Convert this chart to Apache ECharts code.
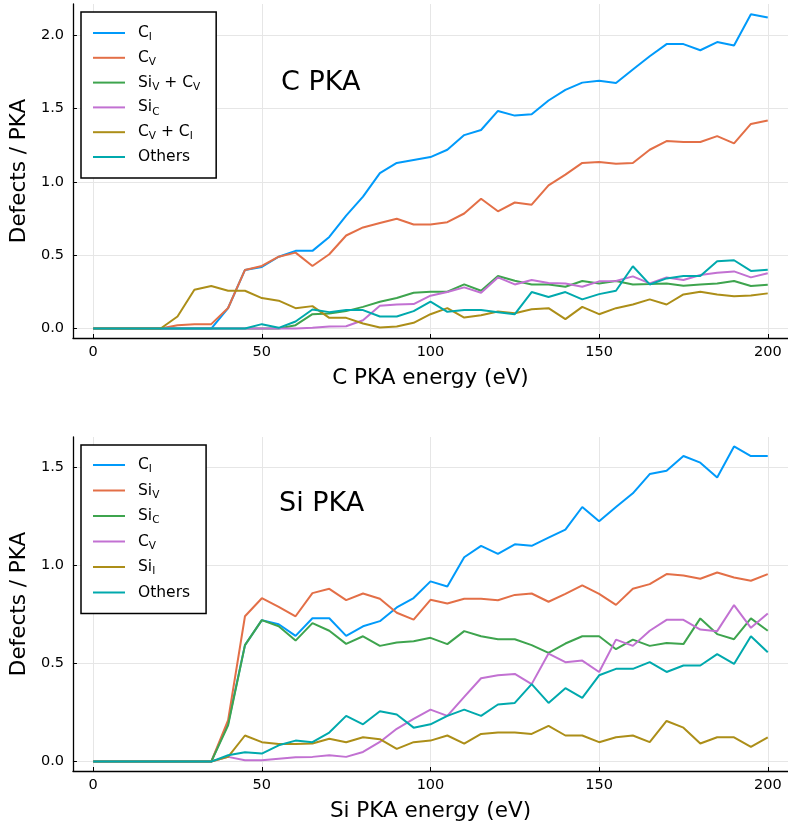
<!DOCTYPE html>
<html>
<head>
<meta charset="utf-8">
<script src="https://cdn.jsdelivr.net/npm/echarts@6/dist/echarts.min.js"></script>
<style>
  html, body { margin: 0; padding: 0; background: #fff; }
  #main { width: 788px; height: 829px; }
</style>
</head>
<body>
<div id="main"></div>
<script>
// energies (eV), one point every 5 eV
var energies = [0, 5, 10, 15, 20, 25, 30, 35, 40, 45, 50, 55, 60, 65, 70, 75, 80, 85, 90, 95, 100,
    105, 110, 115, 120, 125, 130, 135, 140, 145, 150, 155, 160, 165, 170, 175, 180, 185, 190, 195, 200];

// ---- C PKA ----
var cPka_CI = [0, 0, 0, 0, 0, 0, 0, 0, 0.14, 0.40, 0.42, 0.49, 0.53, 0.53, 0.625, 0.77, 0.9, 1.06, 1.13, 1.15, 1.17,
    1.22, 1.32, 1.355, 1.485, 1.453, 1.462, 1.556, 1.628, 1.678, 1.691, 1.676, 1.768, 1.858, 1.941, 1.941, 1.899, 1.955, 1.932, 2.144, 2.122];
var cPka_CV = [0, 0, 0, 0, 0, 0.023, 0.03, 0.03, 0.14, 0.40, 0.427, 0.49, 0.518, 0.427, 0.507, 0.635, 0.69, 0.72, 0.749, 0.71, 0.71,
    0.726, 0.785, 0.886, 0.80, 0.86, 0.845, 0.977, 1.05, 1.13, 1.137, 1.124, 1.13, 1.22, 1.279, 1.273, 1.273, 1.313, 1.264, 1.396, 1.419];
var cPka_SiVCV = [0, 0, 0, 0, 0, 0, 0, 0, 0, 0, 0, 0, 0.023, 0.098, 0.103, 0.119, 0.148, 0.183, 0.208, 0.244, 0.251,
    0.251, 0.301, 0.258, 0.358, 0.326, 0.301, 0.301, 0.285, 0.324, 0.308, 0.324, 0.301, 0.304, 0.308, 0.292, 0.301, 0.308, 0.324, 0.29, 0.299];
var cPka_SiC = [0, 0, 0, 0, 0, 0, 0, 0, 0, 0, 0, 0, 0, 0.005, 0.014, 0.016, 0.057, 0.155, 0.164, 0.167, 0.224,
    0.249, 0.281, 0.244, 0.349, 0.301, 0.331, 0.311, 0.308, 0.285, 0.322, 0.324, 0.356, 0.308, 0.349, 0.331, 0.365, 0.381, 0.39, 0.349, 0.377];
var cPka_CVCI = [0, 0, 0, 0, 0, 0.082, 0.265, 0.29, 0.258, 0.258, 0.208, 0.19, 0.139, 0.153, 0.073, 0.073, 0.034, 0.007, 0.014, 0.039, 0.098,
    0.139, 0.075, 0.091, 0.116, 0.105, 0.132, 0.139, 0.064, 0.148, 0.098, 0.139, 0.164, 0.199, 0.164, 0.233, 0.251, 0.233, 0.221, 0.226, 0.24];
var cPka_Others = [0, 0, 0, 0, 0, 0, 0, 0, 0, 0, 0.03, 0.005, 0.048, 0.13, 0.112, 0.126, 0.126, 0.082, 0.082, 0.119, 0.183,
    0.114, 0.126, 0.126, 0.112, 0.098, 0.249, 0.215, 0.249, 0.199, 0.235, 0.258, 0.425, 0.301, 0.342, 0.358, 0.358, 0.459, 0.466, 0.393, 0.402];

// ---- Si PKA ----
var siPka_CI = [0, 0, 0, 0, 0, 0, 0, 0, 0.194, 0.594, 0.721, 0.70, 0.641, 0.731, 0.731, 0.641, 0.69, 0.716, 0.786, 0.834, 0.919,
    0.893, 1.042, 1.10, 1.059, 1.108, 1.10, 1.142, 1.183, 1.298, 1.225, 1.298, 1.368, 1.466, 1.483, 1.558, 1.524, 1.449, 1.607, 1.558, 1.558];
var siPka_SiV = [0, 0, 0, 0, 0, 0, 0, 0, 0.211, 0.741, 0.833, 0.789, 0.741, 0.859, 0.881, 0.823, 0.857, 0.83, 0.759, 0.724, 0.825,
    0.806, 0.83, 0.83, 0.823, 0.85, 0.857, 0.815, 0.855, 0.898, 0.855, 0.799, 0.881, 0.905, 0.956, 0.949, 0.932, 0.964, 0.939, 0.922, 0.956];
var siPka_SiC = [0, 0, 0, 0, 0, 0, 0, 0, 0.185, 0.594, 0.721, 0.69, 0.617, 0.706, 0.667, 0.60, 0.639, 0.59, 0.607, 0.614, 0.631,
    0.599, 0.665, 0.639, 0.624, 0.624, 0.594, 0.554, 0.602, 0.639, 0.639, 0.573, 0.622, 0.59, 0.605, 0.599, 0.73, 0.65, 0.624, 0.73, 0.667];
var siPka_CV = [0, 0, 0, 0, 0, 0, 0, 0, 0.024, 0.007, 0.007, 0.015, 0.022, 0.024, 0.032, 0.024, 0.049, 0.10, 0.167, 0.218, 0.265,
    0.233, 0.33, 0.425, 0.44, 0.447, 0.395, 0.551, 0.507, 0.515, 0.457, 0.622, 0.59, 0.667, 0.723, 0.723, 0.673, 0.665, 0.798, 0.682, 0.755];
var siPka_SiI = [0, 0, 0, 0, 0, 0, 0, 0, 0.024, 0.133, 0.099, 0.09, 0.09, 0.092, 0.116, 0.099, 0.124, 0.114, 0.065, 0.099, 0.107,
    0.133, 0.092, 0.141, 0.148, 0.148, 0.141, 0.182, 0.133, 0.133, 0.099, 0.124, 0.133, 0.099, 0.207, 0.173, 0.092, 0.124, 0.124, 0.075, 0.124];
var siPka_Others = [0, 0, 0, 0, 0, 0, 0, 0, 0.032, 0.048, 0.041, 0.083, 0.107, 0.099, 0.148, 0.233, 0.19, 0.257, 0.24, 0.173, 0.19,
    0.233, 0.265, 0.233, 0.291, 0.299, 0.395, 0.299, 0.374, 0.325, 0.44, 0.473, 0.473, 0.507, 0.457, 0.49, 0.49, 0.548, 0.498, 0.639, 0.558];

var palette = ['#009afa', '#e36f47', '#3ea44e', '#c271d2', '#ac8e18', '#00a9ad'];
var FONT = 'DejaVu Sans';

// legend labels with subscripts
var labels = {
    'c_CI': '{g| }{n|C}{s|I}',
    'c_CV': '{g| }{n|C}{s|V}',
    'c_SiVCV': '{g| }{n|Si}{s|V}{n| + C}{s|V}',
    'c_SiC': '{g| }{n|Si}{s|C}',
    'c_CVCI': '{g| }{n|C}{s|V}{n| + C}{s|I}',
    'c_Others': '{g| }{n|Others}',
    'si_CI': '{g| }{n|C}{s|I}',
    'si_SiV': '{g| }{n|Si}{s|V}',
    'si_SiC': '{g| }{n|Si}{s|C}',
    'si_CV': '{g| }{n|C}{s|V}',
    'si_SiI': '{g| }{n|Si}{s|I}',
    'si_Others': '{g| }{n|Others}'
};

var chart = echarts.init(document.getElementById('main'));

function pairs(arr) {
    return energies.map(function (e, i) { return [e, arr[i]]; });
}

function line(name, arr, idx, k) {
    return {
        name: name,
        type: 'line',
        xAxisIndex: idx,
        yAxisIndex: idx,
        data: pairs(arr),
        symbol: 'none',
        color: palette[k],
        lineStyle: { width: 2, color: palette[k] },
        z: 2 + k
    };
}

function xAx(idx, title) {
    return {
        type: 'value', gridIndex: idx, min: -6, max: 206,
        minInterval: 50, maxInterval: 50,
        name: title, nameLocation: 'middle', nameGap: 29,
        nameTextStyle: { fontFamily: FONT, fontSize: 21.5, color: '#000' },
        axisLine: { onZero: false, lineStyle: { color: '#000', width: 1.3 } },
        axisTick: { inside: true, length: 4, lineStyle: { color: '#000' } },
        axisLabel: { fontFamily: FONT, fontSize: 14.5, color: '#000', margin: 7,
            showMinLabel: false, showMaxLabel: false },
        splitLine: { show: true, showMinLine: false, showMaxLine: false,
            lineStyle: { color: '#e6e6e6', width: 1 } }
    };
}

function yAx(idx, lo, hi) {
    return {
        type: 'value', gridIndex: idx, min: lo, max: hi,
        minInterval: 0.5, maxInterval: 0.5,
        name: 'Defects / PKA', nameLocation: 'middle', nameGap: 41,
        nameTextStyle: { fontFamily: FONT, fontSize: 21.5, color: '#000' },
        axisLine: { onZero: false, lineStyle: { color: '#000', width: 1.3 } },
        axisTick: { inside: true, length: 4, lineStyle: { color: '#000' } },
        axisLabel: { fontFamily: FONT, fontSize: 14.5, color: '#000', margin: 9,
            showMinLabel: false, showMaxLabel: false,
            formatter: function (v) { return v.toFixed(1); } },
        splitLine: { show: true, showMinLine: false, showMaxLine: false,
            lineStyle: { color: '#e6e6e6', width: 1 } }
    };
}

function legend(names, top, gap, pad) {
    return {
        data: names,
        orient: 'vertical',
        left: 81, top: top,
        padding: pad,
        itemGap: gap,
        itemWidth: 32, itemHeight: 2,
        icon: 'rect',
        selectedMode: false,
        borderColor: '#000', borderWidth: 1.5, borderRadius: 0,
        backgroundColor: '#fff',
        formatter: function (n) { return labels[n]; },
        textStyle: {
            rich: {
                g: { width: 8, fontSize: 10 },
                n: { fontFamily: FONT, fontSize: 15.5, color: '#000', lineHeight: 20 },
                s: { fontFamily: FONT, fontSize: 10.5, color: '#000', lineHeight: 12, verticalAlign: 'bottom' }
            }
        }
    };
}

var option = {
    animation: false,
    backgroundColor: '#fff',
    title: [
        { text: 'C PKA', left: 281, top: 69, padding: 0,
          textStyle: { fontFamily: FONT, fontSize: 27, fontWeight: 'normal', color: '#000' } },
        { text: 'Si PKA', left: 279, top: 490, padding: 0,
          textStyle: { fontFamily: FONT, fontSize: 27, fontWeight: 'normal', color: '#000' } }
    ],
    grid: [
        { left: 72, width: 719, top: 4, height: 334, containLabel: false },
        { left: 72, width: 719, top: 437, height: 334, containLabel: false }
    ],
    xAxis: [xAx(0, 'C PKA energy (eV)'), xAx(1, 'Si PKA energy (eV)')],
    yAxis: [yAx(0, -0.0645, 2.2145), yAx(1, -0.048, 1.655)],
    legend: [
        legend(['c_CI', 'c_CV', 'c_SiVCV', 'c_SiC', 'c_CVCI', 'c_Others'], 12, 6.8, [13, 16, 13, 12]),
        legend(['si_CI', 'si_SiV', 'si_SiC', 'si_CV', 'si_SiI', 'si_Others'], 445, 7.5, [12, 16, 13, 12])
    ],
    series: [
        line('c_CI', cPka_CI, 0, 0),
        line('c_CV', cPka_CV, 0, 1),
        line('c_SiVCV', cPka_SiVCV, 0, 2),
        line('c_SiC', cPka_SiC, 0, 3),
        line('c_CVCI', cPka_CVCI, 0, 4),
        line('c_Others', cPka_Others, 0, 5),
        line('si_CI', siPka_CI, 1, 0),
        line('si_SiV', siPka_SiV, 1, 1),
        line('si_SiC', siPka_SiC, 1, 2),
        line('si_CV', siPka_CV, 1, 3),
        line('si_SiI', siPka_SiI, 1, 4),
        line('si_Others', siPka_Others, 1, 5)
    ]
};

chart.setOption(option);
</script>
</body>
</html>
